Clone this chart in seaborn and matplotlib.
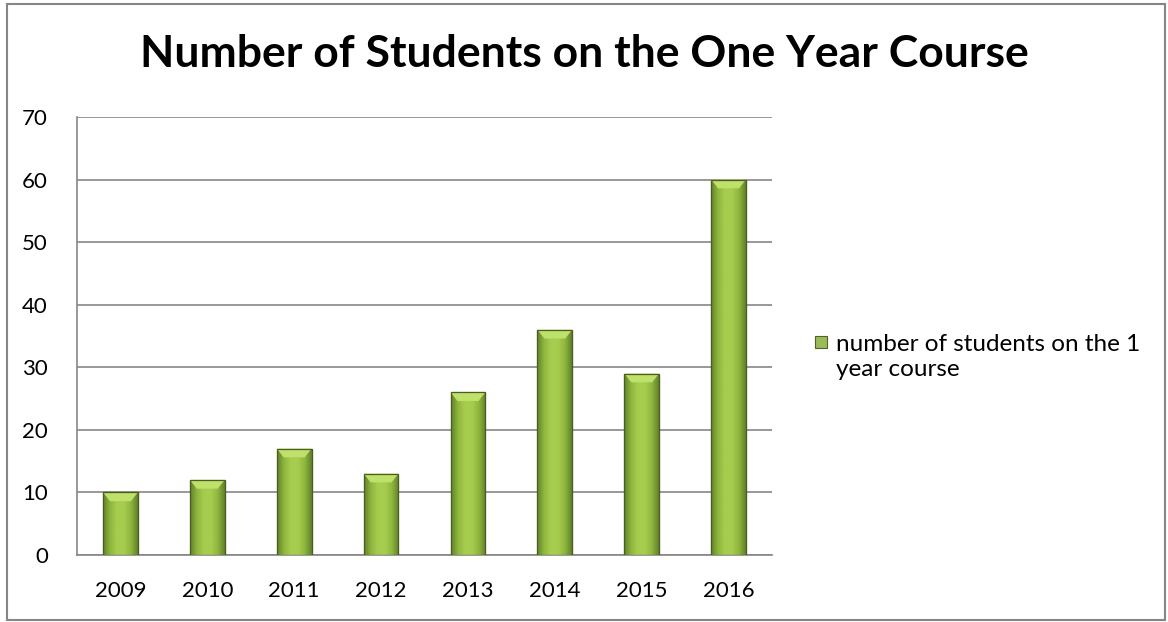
import numpy as np
import pandas as pd
import matplotlib
matplotlib.use("Agg")
import matplotlib.pyplot as plt
import seaborn as sns
from matplotlib.colors import LinearSegmentedColormap
from matplotlib.patches import Rectangle, Polygon

# data
years = ["2009", "2010", "2011", "2012", "2013", "2014", "2015", "2016"]
students = [10, 12, 17, 13, 26, 36, 29, 60]
series_name = "number of students on the 1\nyear course"

df = pd.DataFrame({"year": years, "students": students})

sns.set_style("white")
plt.rcParams["font.family"] = ["Lato", "DejaVu Sans"]
plt.rcParams["text.color"] = "black"

W, H = 1168, 622
fig = plt.figure(figsize=(W / 100, H / 100), dpi=100)
ax = fig.add_axes([77 / W, 1 - 555 / H, 695 / W, 438 / H])

sns.barplot(data=df, x="year", y="students", color="#9bbb59", width=0.4,
            ax=ax, zorder=3, edgecolor="#4f6228", linewidth=0.8)

# gradient fill to imitate the bevelled Excel bars
grad = LinearSegmentedColormap.from_list(
    "bar", ["#62822a", "#8fb73e", "#a7cd4f", "#a7cd4f", "#8fb73e", "#62822a"])
g = np.linspace(0, 1, 64).reshape(1, -1)
for p in ax.patches:
    x0, y0 = p.get_x(), p.get_y()
    w, h = p.get_width(), p.get_height()
    im = ax.imshow(g, cmap=grad, extent=[x0, x0 + w, y0, y0 + h],
                   aspect="auto", zorder=3.5, interpolation="bicubic")
    im.set_clip_path(p)
    bev = 1.4
    ax.add_patch(Polygon([[x0, y0 + h], [x0 + w, y0 + h],
                          [x0 + w * 0.8, y0 + h - bev], [x0 + w * 0.2, y0 + h - bev]],
                         closed=True, facecolor="#bfe06a", edgecolor="none", zorder=3.6))
    ax.add_patch(Rectangle((x0, y0), w, h, fill=False, edgecolor="#4a5e22",
                           linewidth=0.9, zorder=3.7))
ax.set_xlim(-0.5, len(years) - 0.5)
ax.set_ylim(0, 70)
ax.set_yticks(range(0, 71, 10))

ax.yaxis.grid(True, color="#868686", linewidth=1.2, zorder=0)
ax.set_axisbelow(True)
for s in ["top", "right"]:
    ax.spines[s].set_visible(False)
for s in ["left", "bottom"]:
    ax.spines[s].set_color("#868686")
    ax.spines[s].set_linewidth(1.2)

ax.set_xticks(np.arange(-0.5, len(years)), minor=True)
ax.tick_params(axis="x", which="major", length=0, labelsize=16, pad=19, labelcolor="black")
ax.tick_params(axis="x", which="minor", length=8, color="#868686", width=1.2)
ax.tick_params(axis="y", length=9, color="#868686", width=1.2, labelsize=16, pad=12,
               labelcolor="black")
ax.set_xlabel("")
ax.set_ylabel("")

fig.text(584 / W, 1 - 54 / H, "Number of Students on the One Year Course",
         ha="center", va="center", fontsize=32, fontweight="bold", color="black")

# legend
fig.patches.append(Rectangle((815 / W, 1 - 348 / H), 12 / W, 12 / H,
                             transform=fig.transFigure, facecolor="#9bbb59",
                             edgecolor="#4f6228", linewidth=0.8))
fig.text(836 / W, 1 - 357 / H, series_name, ha="left", va="center",
         fontsize=17.5, linespacing=1.28, color="black")

fig.patches.append(Rectangle((7 / W, 2 / H), 1158 / W, 616 / H,
                             transform=fig.transFigure, fill=False,
                             edgecolor="#868686", linewidth=1.5))

fig.savefig("out.png", dpi=100)
